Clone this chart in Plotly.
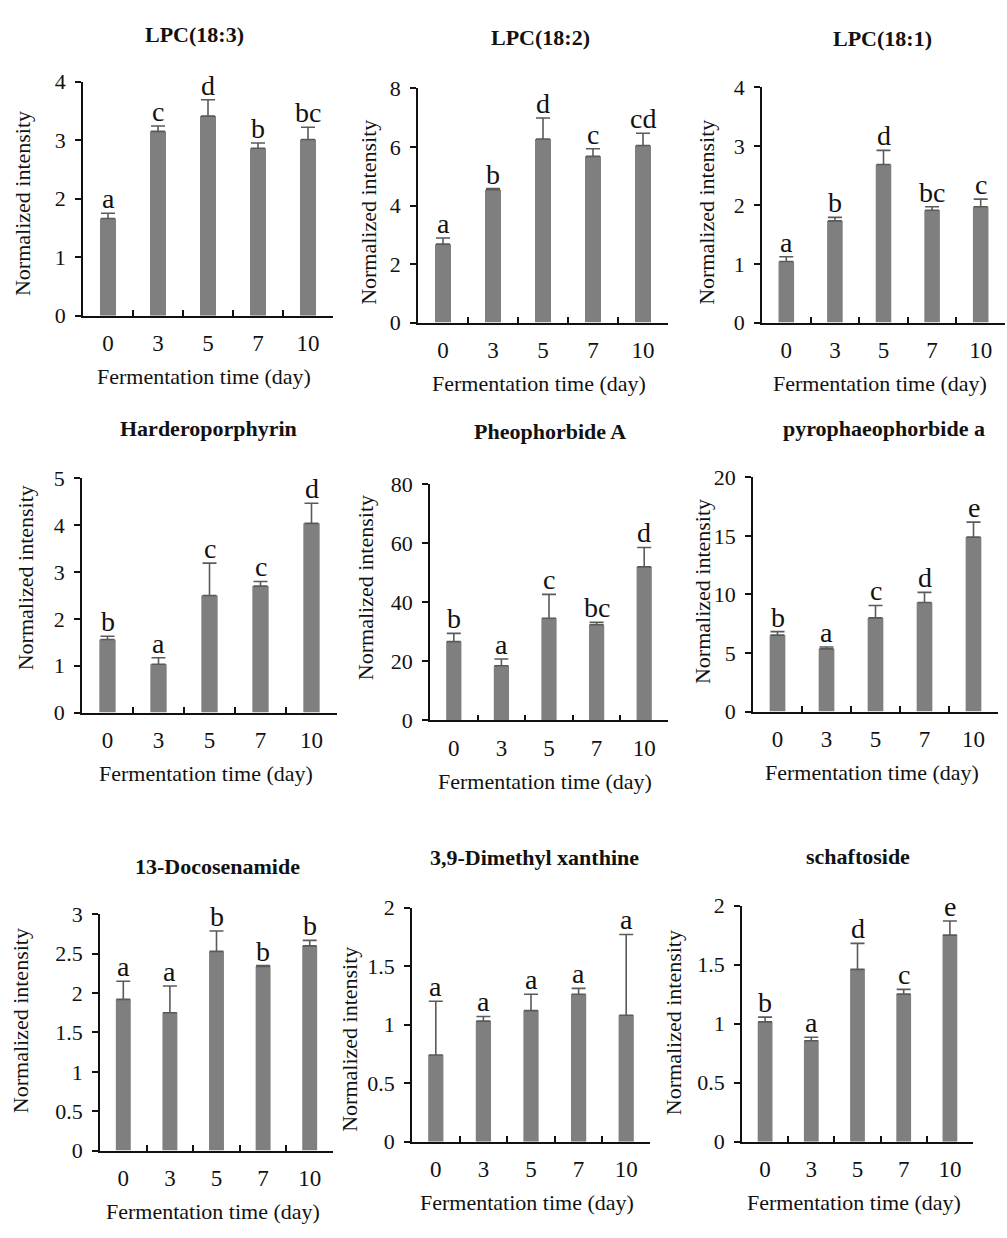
import plotly.graph_objects as go

W, H = 1007, 1238

days = ["0", "3", "5", "7", "10"]
titles = ["LPC(18:3)", "LPC(18:2)", "LPC(18:1)",
          "Harderoporphyrin", "Pheophorbide A", "pyrophaeophorbide a",
          "13-Docosenamide", "3,9-Dimethyl xanthine", "schaftoside"]

lpc183 = [1.66, 3.15, 3.41, 2.86, 3.01]
lpc183_err = [0.09, 0.09, 0.28, 0.09, 0.21]
lpc183_sig = ["a", "c", "d", "b", "bc"]

lpc182 = [2.68, 4.54, 6.27, 5.68, 6.05]
lpc182_err = [0.21, 0.04, 0.72, 0.26, 0.42]
lpc182_sig = ["a", "b", "d", "c", "cd"]

lpc181 = [1.04, 1.73, 2.69, 1.91, 1.97]
lpc181_err = [0.08, 0.06, 0.24, 0.06, 0.13]
lpc181_sig = ["a", "b", "d", "bc", "c"]

harder = [1.56, 1.03, 2.50, 2.70, 4.04]
harder_err = [0.07, 0.14, 0.69, 0.10, 0.43]
harder_sig = ["b", "a", "c", "c", "d"]

pheo = [26.7, 18.5, 34.6, 32.4, 52.0]
pheo_err = [2.8, 2.3, 8.1, 0.8, 6.6]
pheo_sig = ["b", "a", "c", "bc", "d"]

pyro = [6.53, 5.36, 8.0, 9.32, 14.9]
pyro_err = [0.3, 0.15, 1.06, 0.86, 1.28]
pyro_sig = ["b", "a", "c", "d", "e"]

docos = [1.92, 1.75, 2.53, 2.34, 2.60]
docos_err = [0.23, 0.34, 0.26, 0.01, 0.07]
docos_sig = ["a", "a", "b", "b", "b"]

dimx = [0.74, 1.03, 1.12, 1.26, 1.08]
dimx_err = [0.46, 0.04, 0.14, 0.05, 0.69]
dimx_sig = ["a", "a", "a", "a", "a"]

schaf = [1.015, 0.855, 1.46, 1.25, 1.75]
schaf_err = [0.04, 0.03, 0.22, 0.04, 0.12]
schaf_sig = ["b", "a", "d", "c", "e"]

values = [lpc183, lpc182, lpc181, harder, pheo, pyro, docos, dimx, schaf]
errors = [lpc183_err, lpc182_err, lpc181_err, harder_err, pheo_err, pyro_err, docos_err, dimx_err, schaf_err]
letters = [lpc183_sig, lpc182_sig, lpc181_sig, harder_sig, pheo_sig, pyro_sig, docos_sig, dimx_sig, schaf_sig]
y_max = [4, 8, 4, 5, 80, 20, 3, 2, 2]
y_step = [1, 2, 1, 1, 20, 5, 0.5, 0.5, 0.5]

# layout geometry (pixels): x0, x1, y_top, y_zero
boxes = [(83, 333, 71, 310), (418, 668, 78, 317), (762, 1005, 77, 317),
         (82, 337, 476, 715), (430, 668, 482, 723), (753, 998, 475, 714),
         (100, 333, 921, 1162), (412, 650, 914, 1153), (742, 973, 912, 1153)]
title_pos = [(194, 23), (540, 26), (882, 27), (208, 425), (550, 428), (884, 425),
             (217, 872), (534, 863), (858, 862)]
ytitle_pos = [(22, 196), (369, 205), (707, 205), (25, 578), (365, 588), (702, 592),
              (20, 1030), (350, 1049), (673, 1032)]

SERIF = "Liberation Serif, Times New Roman, serif"
BAR = "#7f7f7f"
ERR = "#5a5a5a"

def px(x):
    return x / W

def py(y):
    return 1 - y / H

fig = go.Figure()
layout = dict(width=W, height=H, margin=dict(l=0, r=0, t=0, b=0),
              paper_bgcolor="white", plot_bgcolor="white", showlegend=False)
annotations = []

for i in range(9):
    k = "" if i == 0 else str(i + 1)
    x0, x1, yt, yz = boxes[i]
    fig.add_trace(go.Bar(
        x=days, y=values[i], xaxis="x" + k, yaxis="y" + k,
        marker=dict(color=BAR, line=dict(width=0)), width=0.32,
        error_y=dict(type="data", symmetric=False, array=errors[i],
                     arrayminus=[0] * 5, color=ERR, thickness=1.6, width=7),
    ))
    layout["xaxis" + k] = dict(
        domain=[px(x0), px(x1)], anchor="y" + k, type="category",
        range=[-0.5, 4.5], showline=True, linecolor="#111", linewidth=1.5,
        ticks="inside", tickson="boundaries", ticklen=6, tickcolor="#111", tickwidth=1.5,
        tickfont=dict(family=SERIF, size=23, color="#111"), ticklabelstandoff=6,
        showgrid=False, zeroline=False, fixedrange=True)
    layout["yaxis" + k] = dict(
        domain=[py(yz), py(yt)], anchor="x" + k, range=[0, y_max[i]],
        tick0=0, dtick=y_step[i], showline=True, linecolor="#111", linewidth=1.5,
        ticks="outside", ticklen=6, tickcolor="#111", tickwidth=1.5,
        tickfont=dict(family=SERIF, size=22, color="#111"), ticklabelstandoff=5,
        showgrid=False, zeroline=False, fixedrange=True)
    # significance letters
    for j in range(5):
        annotations.append(dict(
            x=j, y=values[i][j] + errors[i][j], xref="x" + k, yref="y" + k,
            text=letters[i][j], showarrow=False, yanchor="bottom", yshift=-3,
            font=dict(family=SERIF, size=28, color="#111")))
    tx, ty = title_pos[i]
    annotations.append(dict(x=px(tx), y=py(ty), xref="paper", yref="paper",
                            text="<b>" + titles[i] + "</b>", showarrow=False,
                            xanchor="center", yanchor="middle",
                            font=dict(family=SERIF, size=22, color="#111")))
    ytx, yty = ytitle_pos[i]
    annotations.append(dict(x=px(ytx), y=py(yty), xref="paper", yref="paper",
                            text="Normalized intensity", textangle=-90, showarrow=False,
                            xanchor="center", yanchor="middle",
                            font=dict(family=SERIF, size=22, color="#111")))
    annotations.append(dict(x=px((x0 + x1) / 2 - 4), y=py(yz + 62), xref="paper", yref="paper",
                            text="Fermentation time (day)", showarrow=False,
                            xanchor="center", yanchor="middle",
                            font=dict(family=SERIF, size=22, color="#111")))

layout["annotations"] = annotations
fig.update_layout(**layout)
fig.write_html("out.html")
